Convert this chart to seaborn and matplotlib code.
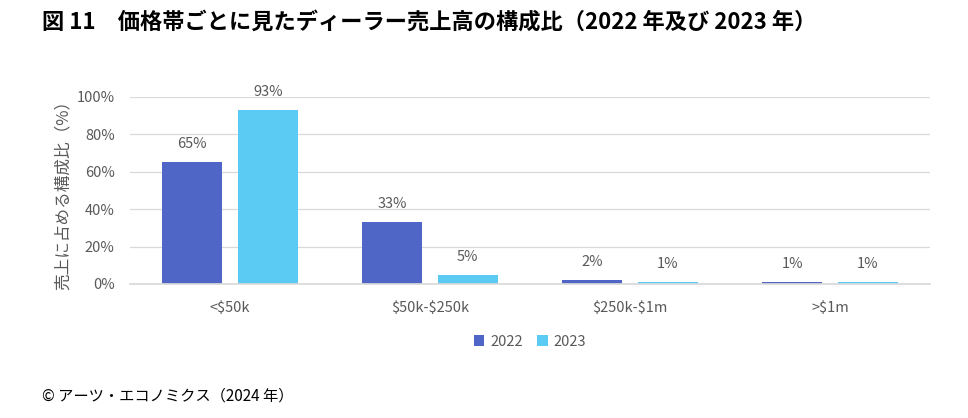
import matplotlib
matplotlib.use("Agg")
import matplotlib.pyplot as plt
import seaborn as sns
import pandas as pd

categories = ["<$50k", "$50k-$250k", "$250k-$1m", ">$1m"]
years = ["2022", "2023"]
values_2022 = [65, 33, 2, 1]
values_2023 = [93, 5, 1, 1]
yticks = [0, 20, 40, 60, 80, 100]

df = pd.DataFrame({
    "category": categories * 2,
    "year": [years[0]] * 4 + [years[1]] * 4,
    "value": values_2022 + values_2023,
})

sns.set_theme(style="white")
plt.rcParams['font.family'] = ['Noto Sans CJK JP', 'DejaVu Sans']
plt.rcParams['text.parse_math'] = False

gray = "#595959"
colors = {"2022": "#4F66C6", "2023": "#5BCBF4"}

fig = plt.figure(figsize=(9.68, 4.18), dpi=100)
ax = fig.add_axes([0.1343, 0.3206, 0.8264, 0.4474])

sns.barplot(data=df, x="category", y="value", hue="year", order=categories,
            hue_order=years, palette=colors, width=0.755, gap=0.205,
            saturation=1, linewidth=0, ax=ax, legend=True)

ax.set_xlim(-0.5, 3.5)
ax.set_ylim(0, 100)
ax.set_yticks(yticks)
ax.set_yticklabels([f"{v}%" for v in yticks], color=gray, fontsize=10.5)
ax.tick_params(axis="x", colors=gray, labelsize=10.5, length=0, pad=12)
ax.tick_params(axis="y", length=0, pad=11)
ax.grid(axis="y", color="#D9D9D9", linewidth=0.9)
ax.set_axisbelow(True)
for s in ["top", "right", "left"]:
    ax.spines[s].set_visible(False)
ax.spines["bottom"].set_color("#D9D9D9")
ax.set_xlabel("")
ax.set_ylabel("売上に占める構成比（%）", color=gray, fontsize=12)
ax.yaxis.set_label_coords(-0.073, 0.5)

for cont in ax.containers:
    ax.bar_label(cont, labels=[f"{v:.0f}%" for v in cont.datavalues],
                 padding=8, color=gray, fontsize=10.5)

leg = ax.legend(loc="upper center", bbox_to_anchor=(0.5, -0.2), ncol=2,
                frameon=False, fontsize=10.5, handlelength=0.7, handleheight=0.7,
                handletextpad=0.4, columnspacing=1.0, labelcolor=gray)

fig.text(0.043, 0.945, "図 11\u3000価格帯ごとに見たディーラー売上高の構成比（2022 年及び 2023 年）",
         fontsize=16, fontweight="bold", color="black", va="center", ha="left")
fig.text(0.043, 0.052, "© アーツ・エコノミクス（2024 年）", fontsize=11,
         color="black", va="center", ha="left")

fig.savefig("out.png", dpi=100)
